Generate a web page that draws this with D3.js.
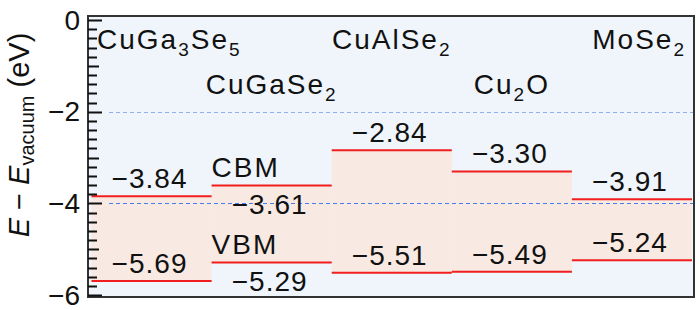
<!DOCTYPE html>
<html>
<head>
<meta charset="utf-8">
<script src="https://cdn.jsdelivr.net/npm/d3@7"></script>
<style>
  body { margin: 0; background: #fff; }
  text { font-family: "Liberation Sans", Arial, sans-serif; fill: #111; }
</style>
</head>
<body>
<svg id="chart" width="700" height="310"></svg>
<script>
// band edges vs vacuum level (eV)
const materials = ["CuGa_3Se_5", "CuGaSe_2", "CuAlSe_2", "Cu_2O", "MoSe_2"];
const cbm = [-3.84, -3.61, -2.84, -3.30, -3.91];
const vbm = [-5.69, -5.29, -5.51, -5.49, -5.24];
const yTickLabels = [0, -2, -4, -6];
const refLines = [-2, -4];
const tagColumn = "CuGaSe_2"; // column carrying the CBM / VBM tags, values under the lines

const margin = { top: 16, right: 6, bottom: 13, left: 88 },
    width = 700 - margin.left - margin.right,
    height = 310 - margin.top - margin.bottom;

const root = d3.select("#chart");
const svg = root.append("g")
    .attr("transform", `translate(${margin.left},${margin.top})`);

const x = d3.scaleBand()
    .domain(materials)
    .range([3.5, width - 2]);

const y = d3.scaleLinear()
    .domain([-6.04, 0.09])
    .range([height, 0]);

const fmt = d => d3.format(".2f")(d).replace("-", "\u2212");

// split "CuGa_3Se_5" into normal / subscript pieces
function addFormula(sel, str, subSize, shift) {
    let back = 0;
    str.split(/(_\d)/).filter(s => s.length).forEach(s => {
        const sub = s[0] === "_";
        sel.append("tspan")
            .attr("font-size", sub ? subSize : null)
            .attr("dy", sub ? shift : back)
            .text(sub ? s.slice(1) : s);
        back = sub ? -shift : 0;
    });
}

// background
svg.append("rect")
    .attr("width", width)
    .attr("height", height)
    .attr("fill", "#eff5fb");

// band gap fills
svg.selectAll(".gap")
    .data(materials)
    .join("rect")
    .attr("x", d => x(d))
    .attr("width", x.bandwidth())
    .attr("y", (d, i) => y(cbm[i]))
    .attr("height", (d, i) => y(vbm[i]) - y(cbm[i]))
    .attr("fill", "#f8e9e2");

// dashed reference levels
svg.selectAll(".ref")
    .data(refLines)
    .join("line")
    .attr("x1", 21)
    .attr("x2", width)
    .attr("y1", d => Math.round(y(d)) + 0.5)
    .attr("y2", d => Math.round(y(d)) + 0.5)
    .attr("stroke", "#3f78ea")
    .attr("stroke-opacity", d => d === -2 ? 0.55 : 0.95)
    .attr("stroke-width", 1.2)
    .attr("stroke-dasharray", "4,3");

// band edge lines
const edges = materials.flatMap((m, i) => [
    { m, v: cbm[i], kind: "CBM" },
    { m, v: vbm[i], kind: "VBM" }
]);

svg.selectAll(".edge")
    .data(edges)
    .join("line")
    .attr("x1", d => x(d.m))
    .attr("x2", d => x(d.m) + x.bandwidth())
    .attr("y1", d => y(d.v))
    .attr("y2", d => y(d.v))
    .attr("stroke", "#f01e1e")
    .attr("stroke-width", 2);

// edge values
svg.selectAll(".val")
    .data(edges)
    .join("text")
    .attr("x", d => x(d.m) + x.bandwidth() / 2 - 2)
    .attr("y", d => d.m === tagColumn ? y(d.v) + 28 : y(d.v) - 8)
    .attr("text-anchor", "middle")
    .attr("font-size", 28)
    .attr("letter-spacing", 1)
    .text(d => fmt(d.v));

// CBM / VBM tags
svg.selectAll(".tag")
    .data(edges.filter(d => d.m === tagColumn))
    .join("text")
    .attr("x", d => x(d.m))
    .attr("y", d => y(d.v) - 9)
    .attr("font-size", 28)
    .attr("letter-spacing", 2)
    .text(d => d.kind);

// material names, alternating rows
svg.selectAll(".name")
    .data(materials)
    .join("text")
    .attr("x", (d, i) => i === 0 ? 9 : i === materials.length - 1 ? width - 8 : x(d) + x.bandwidth() / 2)
    .attr("y", (d, i) => i % 2 ? 78 : 33)
    .attr("text-anchor", (d, i) => i === 0 ? "start" : i === materials.length - 1 ? "end" : "middle")
    .attr("font-size", 28)
    .attr("letter-spacing", 2)
    .each(function (d) { addFormula(d3.select(this), d, 19, 7); });

// labelled axis (labels only)
svg.append("g")
    .call(d3.axisLeft(y).tickValues(yTickLabels).tickSize(0).tickPadding(8)
        .tickFormat(d => d === 0 ? "0" : String(d).replace("-", "\u2212")))
    .call(g => g.select(".domain").remove())
    .call(g => g.selectAll(".tick line").remove())
    .call(g => g.selectAll("text")
        .attr("font-size", 28)
        .attr("font-family", "Liberation Sans, Arial, sans-serif")
        .attr("fill", "#111"));

// frame
svg.append("rect")
    .attr("width", width)
    .attr("height", height)
    .attr("fill", "none")
    .attr("stroke", "#333")
    .attr("stroke-width", 2);

// inward ticks: minor every 0.2, medium every 1, major every 2
const allTicks = d3.range(0, 31).map(i => ({ v: -i / 5, len: i % 10 === 0 ? 14 : i % 5 === 0 ? 11 : 9 }));

root.append("g")
    .attr("transform", `translate(${margin.left},${margin.top})`)
    .selectAll("line")
    .data(allTicks)
    .join("line")
    .attr("x1", 0)
    .attr("x2", d => d.len)
    .attr("y1", d => Math.round(y(d.v)) + 0.5)
    .attr("y2", d => Math.round(y(d.v)) + 0.5)
    .attr("stroke", "#111")
    .attr("stroke-width", 2);

// y axis title
const title = root.append("text")
    .attr("transform", "translate(29,135) rotate(-90)")
    .attr("text-anchor", "middle")
    .attr("font-size", 29);
title.append("tspan").attr("font-style", "italic").text("E");
title.append("tspan").text(" \u2212 ");
title.append("tspan").attr("font-style", "italic").text("E");
title.append("tspan").attr("font-size", 20).attr("dy", 5).text("vacuum");
title.append("tspan").attr("dy", -5).text(" (eV)");
</script>
</body>
</html>
